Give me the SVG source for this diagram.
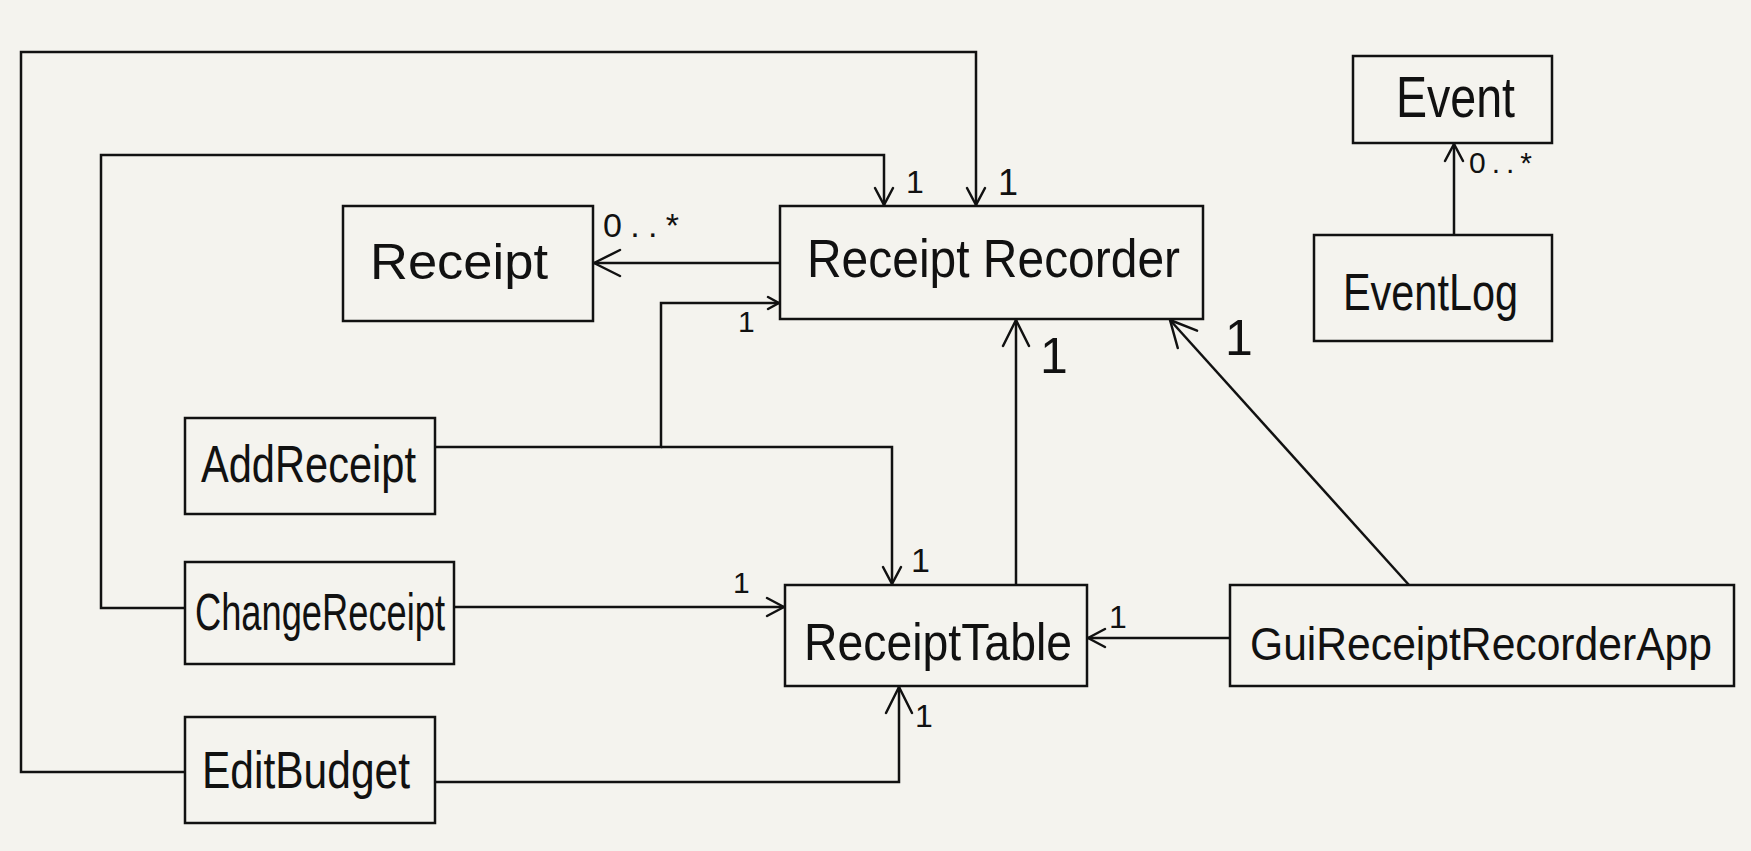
<svg xmlns="http://www.w3.org/2000/svg" width="1751" height="851" viewBox="0 0 1751 851">
<style>
.bg{fill:#f4f3ee}
.box{fill:none;stroke:#111;stroke-width:2.5}
.lbl{font-family:"Liberation Sans",Arial,sans-serif;fill:#111}
.mult{font-family:"Liberation Sans",Arial,sans-serif;fill:#111}
.edge{fill:none;stroke:#111;stroke-width:2.5;stroke-linejoin:miter}
.ah{fill:none;stroke:#111;stroke-width:2.5;stroke-linecap:round;stroke-linejoin:round}
</style>
<defs>
<marker id="aS" markerUnits="userSpaceOnUse" markerWidth="30" markerHeight="30" viewBox="-25 -15 30 30" refX="0" refY="0" orient="auto" overflow="visible"><path class="ah" d="M-11,-6 L0,0 L-11,6"/></marker>
<marker id="aM" markerUnits="userSpaceOnUse" markerWidth="30" markerHeight="30" viewBox="-25 -15 30 30" refX="0" refY="0" orient="auto" overflow="visible"><path class="ah" d="M-17,-9 L0,0 L-17,9"/></marker>
<marker id="aL" markerUnits="userSpaceOnUse" markerWidth="40" markerHeight="40" viewBox="-35 -20 40 40" refX="0" refY="0" orient="auto" overflow="visible"><path class="ah" d="M-26,-13 L0,0 L-26,13"/></marker>
</defs>
<rect class="bg" x="0" y="0" width="1751" height="851"/>

<g id="connectors">
<polyline class="edge" points="185,772 21,772 21,52 976,52 976,205" marker-end="url(#aM)"/>
<polyline class="edge" points="185,608 101,608 101,155 884,155 884,205" marker-end="url(#aM)"/>
<polyline class="edge" points="435,447 661,447 661,303 779,303" marker-end="url(#aS)"/>
<polyline class="edge" points="661,447 892,447 892,584" marker-end="url(#aM)"/>
<polyline class="edge" points="454,607 784,607" marker-end="url(#aM)"/>
<polyline class="edge" points="435,782 899,782 899,687" marker-end="url(#aL)"/>
<polyline class="edge" points="780,263 594,263" marker-end="url(#aL)"/>
<polyline class="edge" points="1016,585 1016,320" marker-end="url(#aL)"/>
<polyline class="edge" points="1409,585 1170,320" marker-end="url(#aL)"/>
<polyline class="edge" points="1230,638 1088,638" marker-end="url(#aM)"/>
<polyline class="edge" points="1454,235 1454,144" marker-end="url(#aM)"/>
<text class="mult" x="603" y="237" font-size="34" textLength="76" lengthAdjust="spacing">0..*</text>
<text class="mult" x="906" y="193" font-size="32">1</text>
<text class="mult" x="998" y="195" font-size="36">1</text>
<text class="mult" x="738" y="332" font-size="30">1</text>
<text class="mult" x="1040" y="373" font-size="50">1</text>
<text class="mult" x="1225" y="355" font-size="50">1</text>
<text class="mult" x="1469" y="173" font-size="30" textLength="63" lengthAdjust="spacing">0..*</text>
<text class="mult" x="911" y="572" font-size="34">1</text>
<text class="mult" x="733" y="593" font-size="30">1</text>
<text class="mult" x="1109" y="628" font-size="32">1</text>
<text class="mult" x="915" y="727" font-size="32">1</text>
</g>

<g id="receipt">
<rect class="box" x="343" y="206" width="250" height="115"/>
<text class="lbl" x="370" y="279" font-size="50" textLength="178" lengthAdjust="spacingAndGlyphs">Receipt</text>
</g>
<g id="receipt-recorder">
<rect class="box" x="780" y="206" width="423" height="113"/>
<text class="lbl" x="807" y="277" font-size="54" textLength="373" lengthAdjust="spacingAndGlyphs">Receipt Recorder</text>
</g>
<g id="event">
<rect class="box" x="1353" y="56" width="199" height="87"/>
<text class="lbl" x="1396" y="117" font-size="58" textLength="119" lengthAdjust="spacingAndGlyphs">Event</text>
</g>
<g id="event-log">
<rect class="box" x="1314" y="235" width="238" height="106"/>
<text class="lbl" x="1343" y="310" font-size="52" textLength="175" lengthAdjust="spacingAndGlyphs">EventLog</text>
</g>
<g id="add-receipt">
<rect class="box" x="185" y="418" width="250" height="96"/>
<text class="lbl" x="201" y="482" font-size="52" textLength="215" lengthAdjust="spacingAndGlyphs">AddReceipt</text>
</g>
<g id="change-receipt">
<rect class="box" x="185" y="562" width="269" height="102"/>
<text class="lbl" x="195" y="630" font-size="52" textLength="250" lengthAdjust="spacingAndGlyphs">ChangeReceipt</text>
</g>
<g id="edit-budget">
<rect class="box" x="185" y="717" width="250" height="106"/>
<text class="lbl" x="202" y="788" font-size="52" textLength="208" lengthAdjust="spacingAndGlyphs">EditBudget</text>
</g>
<g id="receipt-table">
<rect class="box" x="785" y="585" width="302" height="101"/>
<text class="lbl" x="804" y="660" font-size="52" textLength="268" lengthAdjust="spacingAndGlyphs">ReceiptTable</text>
</g>
<g id="gui-receipt-recorder-app">
<rect class="box" x="1230" y="585" width="504" height="101"/>
<text class="lbl" x="1250" y="660" font-size="46" textLength="462" lengthAdjust="spacingAndGlyphs">GuiReceiptRecorderApp</text>
</g>
</svg>
